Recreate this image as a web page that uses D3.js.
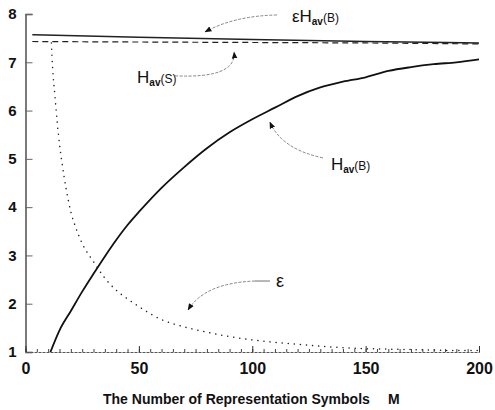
<!DOCTYPE html>
<html>
<head>
<meta charset="utf-8">
<script src="https://cdn.jsdelivr.net/npm/d3@7"></script>
<style>
  body { margin: 0; background: #fff; }
  svg { font-family: "Liberation Sans", Arial, sans-serif; }
</style>
</head>
<body>
<div id="chart"></div>
<script>
// number of representation symbols M
const mB = [11, 15, 20, 25, 30, 35, 40, 45, 50, 60, 70, 80, 90, 100, 110, 120, 130, 140, 150, 160, 170, 180, 190, 200];
const hB = [1.0, 1.45, 1.85, 2.25, 2.62, 2.98, 3.32, 3.63, 3.9, 4.4, 4.83, 5.22, 5.55, 5.82, 6.06, 6.3, 6.48, 6.6, 6.69, 6.82, 6.9, 6.96, 7.0, 7.06];

const mEps = [11.4, 12, 13, 14, 15, 16, 18, 20, 22, 25, 30, 35, 40, 45, 50, 60, 70, 80, 90, 100, 110, 120, 130, 140, 150, 160, 170, 180, 190, 200];
const eps = [7.4, 6.85, 6.3, 5.75, 5.3, 4.95, 4.36, 3.9, 3.6, 3.25, 2.87, 2.53, 2.28, 2.1, 1.94, 1.67, 1.52, 1.41, 1.32, 1.25, 1.2, 1.16, 1.12, 1.09, 1.07, 1.06, 1.05, 1.04, 1.03, 1.03];

const mTop = [3, 50, 100, 150, 200];
const epsHB = [7.57, 7.52, 7.47, 7.43, 7.40];
const hS = [7.43, 7.42, 7.41, 7.40, 7.38];

const yTicks = [1, 2, 3, 4, 5, 6, 7, 8];
const xMajor = [0, 50, 100, 150, 200];
const xMinor = d3.range(0, 201, 5);

const width = 495, height = 410;

const svg = d3.select('#chart').append('svg')
    .attr('width', width)
    .attr('height', height);

const x = d3.scaleLinear().domain([0, 200]).range([25.5, 479]);
const y = d3.scaleLinear().domain([1, 8]).range([352, 14]);

// arrow head
svg.append('defs').append('marker')
    .attr('id', 'head')
    .attr('viewBox', '0 0 10 10')
    .attr('refX', 9).attr('refY', 5)
    .attr('markerWidth', 7).attr('markerHeight', 7)
    .attr('markerUnits', 'userSpaceOnUse')
    .attr('orient', 'auto')
  .append('path')
    .attr('d', 'M0,1 L10,5 L0,9 Z')
    .attr('fill', '#111');

// y axis
const yAxis = svg.append('g')
    .attr('transform', 'translate(' + x(0) + ',0)')
    .call(d3.axisLeft(y).tickValues(yTicks).tickSize(-7).tickPadding(9).tickFormat(d3.format('d')));
yAxis.select('.domain').attr('stroke', '#333').attr('stroke-width', 1.3);
yAxis.selectAll('.tick line').attr('stroke', '#666').attr('stroke-width', 1);
yAxis.selectAll('text')
    .attr('fill', '#111')
    .style('font-size', '15px')
    .style('font-weight', 'bold');

// x axis, minor then major ticks
const xMin = svg.append('g')
    .attr('transform', 'translate(0,' + y(1) + ')')
    .call(d3.axisBottom(x).tickValues(xMinor).tickSize(-3).tickFormat(''));
xMin.select('.domain').attr('stroke', '#555').attr('stroke-width', 1).attr('stroke-dasharray', '3,1');
xMin.selectAll('.tick line').attr('stroke', '#444');

const xAxis = svg.append('g')
    .attr('transform', 'translate(0,' + y(1) + ')')
    .call(d3.axisBottom(x).tickValues(xMajor).tickSize(-6).tickPadding(11));
xAxis.select('.domain').remove();
xAxis.selectAll('.tick line').attr('stroke', '#333');
xAxis.selectAll('text')
    .attr('fill', '#111')
    .style('font-size', '16px')
    .style('font-weight', 'bold');

svg.append('text')
    .attr('x', 103).attr('y', 404)
    .attr('fill', '#111')
    .style('font-size', '14px')
    .style('font-weight', 'bold')
    .text('The Number of Representation Symbols');
svg.append('text')
    .attr('x', 388).attr('y', 404)
    .attr('fill', '#111')
    .style('font-size', '14px')
    .style('font-weight', 'bold')
    .text('M');

// curves
const line = d3.line()
    .x((d) => x(d[0]))
    .y((d) => y(d[1]))
    .curve(d3.curveMonotoneX);

svg.append('path')
    .datum(d3.zip(mTop, epsHB))
    .attr('d', line)
    .attr('fill', 'none')
    .attr('stroke', '#222')
    .attr('stroke-width', 1.5);

svg.append('path')
    .datum(d3.zip(mTop, hS))
    .attr('d', line)
    .attr('fill', 'none')
    .attr('stroke', '#222')
    .attr('stroke-width', 1.2)
    .attr('stroke-dasharray', '6,4');

svg.append('path')
    .datum(d3.zip(mB, hB))
    .attr('d', line)
    .attr('fill', 'none')
    .attr('stroke', '#111')
    .attr('stroke-width', 1.8);

svg.append('path')
    .datum(d3.zip(mEps, eps))
    .attr('d', line)
    .attr('fill', 'none')
    .attr('stroke', '#222')
    .attr('stroke-width', 1.5)
    .attr('stroke-linecap', 'round')
    .attr('stroke-dasharray', '0.1,6');

// annotations in data units: label anchor, arrow start, control, tip
const notes = [
  {pre: '\u03b5', sub: 'av', post: '(B)', at: [117.5, 7.83], from: [110.9, 7.98], ctrl: [92, 7.96], to: [79.2, 7.63]},
  {pre: '', sub: 'av', post: '(S)', at: [49.2, 6.57], from: [65.9, 6.72], ctrl: [93, 6.66], to: [92, 7.21]},
  {pre: '', sub: 'av', post: '(B)', at: [134.7, 4.77], from: [131.2, 5.02], ctrl: [113, 5.2], to: [107.8, 5.76]}
];

notes.forEach((n) => {
  svg.append('path')
      .attr('d', 'M' + x(n.from[0]) + ',' + y(n.from[1]) +
        ' Q' + x(n.ctrl[0]) + ',' + y(n.ctrl[1]) + ' ' + x(n.to[0]) + ',' + y(n.to[1]))
      .attr('fill', 'none')
      .attr('stroke', '#777')
      .attr('stroke-width', 0.9)
      .attr('stroke-dasharray', '3,1.5')
      .attr('marker-end', 'url(#head)');
  const t = svg.append('text')
      .attr('x', x(n.at[0])).attr('y', y(n.at[1]))
      .attr('fill', '#111')
      .style('font-size', '17px');
  t.append('tspan').text(n.pre + 'H');
  t.append('tspan').attr('dy', 3).style('font-size', '10px').style('font-weight', 'bold').text(n.sub);
  t.append('tspan').attr('dy', -3).style('font-size', '12px').text(n.post);
});

// epsilon label
const epsNote = {at: [110.5, 2.35], from: [101.2, 2.47], stub: [107.8, 2.47], ctrl: [79, 2.43], to: [71.7, 1.87]};
svg.append('line')
    .attr('x1', x(epsNote.from[0])).attr('y1', y(epsNote.from[1]))
    .attr('x2', x(epsNote.stub[0])).attr('y2', y(epsNote.stub[1]))
    .attr('stroke', '#888')
    .attr('stroke-width', 1.2);
svg.append('path')
    .attr('d', 'M' + x(epsNote.from[0]) + ',' + y(epsNote.from[1]) +
      ' Q' + x(epsNote.ctrl[0]) + ',' + y(epsNote.ctrl[1]) + ' ' + x(epsNote.to[0]) + ',' + y(epsNote.to[1]))
    .attr('fill', 'none')
    .attr('stroke', '#777')
    .attr('stroke-width', 0.9)
    .attr('stroke-dasharray', '3,1.5')
    .attr('marker-end', 'url(#head)');
svg.append('text')
    .attr('x', x(epsNote.at[0])).attr('y', y(epsNote.at[1]))
    .attr('fill', '#111')
    .style('font-size', '18px')
    .text('\u03b5');
</script>
</body>
</html>
